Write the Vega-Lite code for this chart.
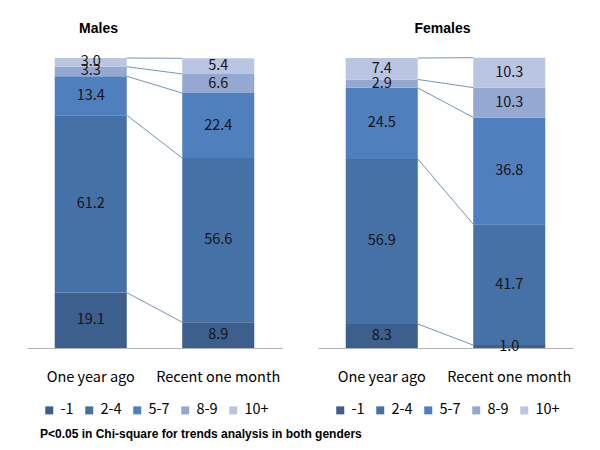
{
  "$schema": "https://vega.github.io/schema/vega-lite/v6.json",
  "padding": {"left": 27, "top": 22, "right": 10, "bottom": 5},
  "background": "white",
  "datasets": {
    "rows": [
      {"gender": "Males", "period": "One year ago", "cat": "-1", "order": 1, "value": 19.1},
      {"gender": "Males", "period": "One year ago", "cat": "2-4", "order": 2, "value": 61.2},
      {"gender": "Males", "period": "One year ago", "cat": "5-7", "order": 3, "value": 13.4},
      {"gender": "Males", "period": "One year ago", "cat": "8-9", "order": 4, "value": 3.3},
      {"gender": "Males", "period": "One year ago", "cat": "10+", "order": 5, "value": 3.0},
      {"gender": "Males", "period": "Recent one month", "cat": "-1", "order": 1, "value": 8.9},
      {"gender": "Males", "period": "Recent one month", "cat": "2-4", "order": 2, "value": 56.6},
      {"gender": "Males", "period": "Recent one month", "cat": "5-7", "order": 3, "value": 22.4},
      {"gender": "Males", "period": "Recent one month", "cat": "8-9", "order": 4, "value": 6.6},
      {"gender": "Males", "period": "Recent one month", "cat": "10+", "order": 5, "value": 5.4},
      {"gender": "Females", "period": "One year ago", "cat": "-1", "order": 1, "value": 8.3},
      {"gender": "Females", "period": "One year ago", "cat": "2-4", "order": 2, "value": 56.9},
      {"gender": "Females", "period": "One year ago", "cat": "5-7", "order": 3, "value": 24.5},
      {"gender": "Females", "period": "One year ago", "cat": "8-9", "order": 4, "value": 2.9},
      {"gender": "Females", "period": "One year ago", "cat": "10+", "order": 5, "value": 7.4},
      {"gender": "Females", "period": "Recent one month", "cat": "-1", "order": 1, "value": 1.0},
      {"gender": "Females", "period": "Recent one month", "cat": "2-4", "order": 2, "value": 41.7},
      {"gender": "Females", "period": "Recent one month", "cat": "5-7", "order": 3, "value": 36.8},
      {"gender": "Females", "period": "Recent one month", "cat": "8-9", "order": 4, "value": 10.3},
      {"gender": "Females", "period": "Recent one month", "cat": "10+", "order": 5, "value": 10.3}
    ]
  },
  "title": {
    "text": "P<0.05 in Chi-square for trends analysis in both genders",
    "orient": "bottom",
    "anchor": "start",
    "dx": 13,
    "offset": -3,
    "font": "Liberation Sans",
    "fontSize": 12,
    "fontWeight": "bold",
    "color": "#000000"
  },
  "config": {
    "view": {"stroke": null},
    "font": "Noto Sans CJK KR",
    "legend": {
      "orient": "bottom",
      "direction": "horizontal",
      "title": null,
      "symbolType": "square",
      "symbolSize": 64,
      "symbolStrokeWidth": 0,
      "labelFontSize": 14.5,
      "labelColor": "#000000",
      "labelFont": "Noto Sans CJK KR",
      "labelOffset": 4,
      "columnPadding": 8,
      "padding": 15,
      "offset": 4
    }
  },
  "spacing": 36,
  "bounds": "flush",
  "resolve": {"scale": {"color": "independent"}, "legend": {"color": "independent"}},
  "hconcat": [
    {
      "width": 255,
      "height": 290,
      "title": {"text": "Males", "anchor": "middle", "dx": -56, "offset": 18, "font": "Liberation Sans", "fontSize": 14, "fontWeight": "bold", "color": "#000000"},
      "data": {"name": "rows"},
      "transform": [
        {"filter": "datum.gender === 'Males'"},
        {"window": [{"op": "sum", "field": "value", "as": "cum"}], "groupby": ["period"], "sort": [{"field": "order"}], "frame": [null, 0]},
        {"calculate": "datum.cum - datum.value / 2", "as": "mid"}
      ],
      "layer": [
        {
          "mark": {"type": "bar"},
          "encoding": {
            "x": {"field": "period", "type": "nominal", "sort": ["One year ago", "Recent one month"], "scale": {"paddingInner": 0.435, "paddingOuter": 0.2175},
              "axis": {"title": null, "labelAngle": 0, "ticks": false, "domainColor": "#B4B4B4", "labelFontSize": 14.5, "labelColor": "#000000", "labelPadding": 22, "labelFont": "Noto Sans CJK KR"}},
            "y": {"field": "value", "type": "quantitative", "stack": "zero", "scale": {"domain": [0, 100], "nice": false}, "axis": null},
            "order": {"field": "order", "type": "quantitative"},
            "color": {"field": "cat", "type": "nominal", "scale": {"domain": ["-1", "2-4", "5-7", "8-9", "10+"], "range": ["#3D5F8E", "#4571A7", "#4F80BD", "#95A8D1", "#B9C5E1"]}}
          }
        },
        {
          "transform": [
            {"pivot": "period", "value": "cum", "groupby": ["cat", "order"]}
          ],
          "mark": {"type": "rule", "color": "#7895B4", "strokeWidth": 1},
          "encoding": {
            "x": {"datum": "One year ago", "type": "nominal", "bandPosition": 1},
            "x2": {"datum": "Recent one month", "bandPosition": 0},
            "y": {"field": "One year ago", "type": "quantitative"},
            "y2": {"field": "Recent one month"}
          }
        },
        {
          "mark": {"type": "text", "fontSize": 14.5, "color": "#141414", "font": "Noto Sans CJK KR", "baseline": "middle"},
          "encoding": {
            "x": {"field": "period", "type": "nominal", "sort": ["One year ago", "Recent one month"]},
            "y": {"field": "mid", "type": "quantitative"},
            "text": {"field": "value", "type": "quantitative", "format": ".1f"}
          }
        }
      ]
    },
    {
      "width": 255,
      "height": 290,
      "title": {"text": "Females", "anchor": "middle", "dx": -3, "offset": 21, "font": "Liberation Sans", "fontSize": 14, "fontWeight": "bold", "color": "#000000"},
      "data": {"name": "rows"},
      "transform": [
        {"filter": "datum.gender === 'Females'"},
        {"window": [{"op": "sum", "field": "value", "as": "cum"}], "groupby": ["period"], "sort": [{"field": "order"}], "frame": [null, 0]},
        {"calculate": "datum.cum - datum.value / 2", "as": "mid"}
      ],
      "layer": [
        {
          "mark": {"type": "bar"},
          "encoding": {
            "x": {"field": "period", "type": "nominal", "sort": ["One year ago", "Recent one month"], "scale": {"paddingInner": 0.435, "paddingOuter": 0.2175},
              "axis": {"title": null, "labelAngle": 0, "ticks": false, "domainColor": "#B4B4B4", "labelFontSize": 14.5, "labelColor": "#000000", "labelPadding": 22, "labelFont": "Noto Sans CJK KR"}},
            "y": {"field": "value", "type": "quantitative", "stack": "zero", "scale": {"domain": [0, 100], "nice": false}, "axis": null},
            "order": {"field": "order", "type": "quantitative"},
            "color": {"field": "cat", "type": "nominal", "scale": {"domain": ["-1", "2-4", "5-7", "8-9", "10+"], "range": ["#3D5F8E", "#4571A7", "#4F80BD", "#95A8D1", "#B9C5E1"]}}
          }
        },
        {
          "transform": [
            {"pivot": "period", "value": "cum", "groupby": ["cat", "order"]}
          ],
          "mark": {"type": "rule", "color": "#7895B4", "strokeWidth": 1},
          "encoding": {
            "x": {"datum": "One year ago", "type": "nominal", "bandPosition": 1},
            "x2": {"datum": "Recent one month", "bandPosition": 0},
            "y": {"field": "One year ago", "type": "quantitative"},
            "y2": {"field": "Recent one month"}
          }
        },
        {
          "mark": {"type": "text", "fontSize": 14.5, "color": "#141414", "font": "Noto Sans CJK KR", "baseline": "middle"},
          "encoding": {
            "x": {"field": "period", "type": "nominal", "sort": ["One year ago", "Recent one month"]},
            "y": {"field": "mid", "type": "quantitative"},
            "text": {"field": "value", "type": "quantitative", "format": ".1f"}
          }
        }
      ]
    }
  ]
}
